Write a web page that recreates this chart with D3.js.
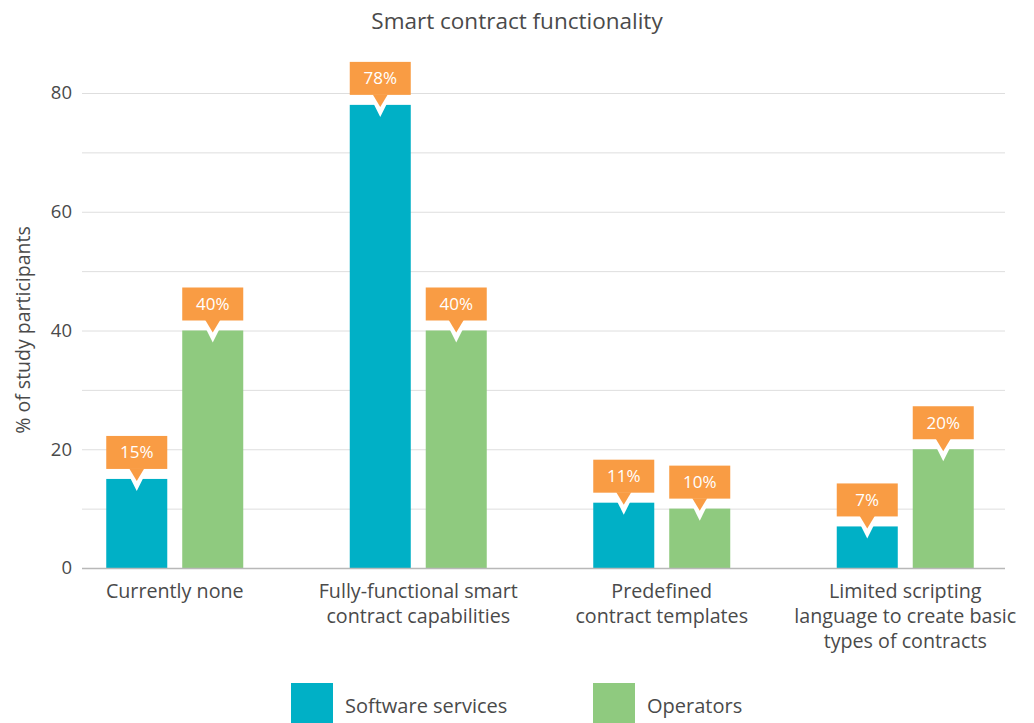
<!DOCTYPE html>
<html>
<head>
<meta charset="utf-8">
<script src="https://cdn.jsdelivr.net/npm/d3@7"></script>
<style>
  body { margin: 0; background: #fff; }
  svg { display: block; font-family: "Open Sans", Lato, sans-serif; }
</style>
</head>
<body>
<svg id="chart" width="1034" height="723"></svg>
<script>
// data
const categories = [
  'Currently none',
  'Fully-functional smart\ncontract capabilities',
  'Predefined\ncontract templates',
  'Limited scripting\nlanguage to create basic\ntypes of contracts'
]
const seriesNames = ['Software services', 'Operators']
const softwareValues = [15, 78, 11, 7]
const operatorValues = [40, 40, 10, 20]
const yTicks = [0, 20, 40, 60, 80]
const gridTicks = [0, 10, 20, 30, 40, 50, 60, 70, 80]
const colors = ['#00b0c6', '#8fca7f']
const calloutColor = '#f99c44'
const textColor = '#4a4a4a'

const svg = d3.select('#chart')

const x0 = d3.scaleBand().domain(categories).range([53, 1027])
const x1 = d3.scaleBand().domain(seriesNames).range([-68.5, 68.5]).paddingInner(0.197)
const y = d3.scaleLinear().domain([0, 80]).range([568, 93])

const gridLeft = 82
const gridRight = 1005

// title
svg.append('text')
  .attr('x', 517).attr('y', 29)
  .attr('text-anchor', 'middle')
  .attr('font-size', 22.5)
  .attr('fill', textColor)
  .text('Smart contract functionality')

// grid
svg.append('g').selectAll('line')
  .data(gridTicks.filter(d => d > 0))
  .enter().append('line')
  .attr('x1', gridLeft).attr('x2', gridRight)
  .attr('y1', d => y(d) + 0.5).attr('y2', d => y(d) + 0.5)
  .attr('stroke', '#dedede').attr('stroke-width', 1)

// y axis labels
const yAxis = svg.append('g')
  .attr('transform', `translate(${gridLeft},0)`)
  .call(d3.axisLeft(y).tickValues(yTicks).tickSize(0).tickPadding(10))
yAxis.select('.domain').remove()
yAxis.selectAll('text')
  .attr('font-family', '"Open Sans", Lato, sans-serif')
  .attr('font-size', 18.5)
  .attr('fill', textColor)

svg.append('text')
  .attr('transform', 'translate(30,330) rotate(-90)')
  .attr('text-anchor', 'middle')
  .attr('font-size', 19.5)
  .attr('fill', textColor)
  .text('% of study participants')

// bars
const rows = categories.map((c, i) => ({
  category: c,
  values: [
    { series: seriesNames[0], value: softwareValues[i], color: colors[0] },
    { series: seriesNames[1], value: operatorValues[i], color: colors[1] }
  ]
}))

const groups = svg.append('g').selectAll('g')
  .data(rows)
  .enter().append('g')
  .attr('transform', d => `translate(${x0(d.category) + x0.bandwidth() / 2},0)`)

groups.selectAll('rect')
  .data(d => d.values)
  .enter().append('rect')
  .attr('x', d => x1(d.series))
  .attr('width', x1.bandwidth())
  .attr('y', d => y(d.value))
  .attr('height', d => y(0) - y(d.value))
  .attr('fill', d => d.color)

// baseline
svg.append('line')
  .attr('x1', gridLeft).attr('x2', gridRight)
  .attr('y1', y(0) + 0.5).attr('y2', y(0) + 0.5)
  .attr('stroke', '#b8b8b8').attr('stroke-width', 1.5)

// callouts
const callouts = groups.selectAll('g.callout')
  .data(d => d.values)
  .enter().append('g')
  .attr('class', 'callout')
  .attr('transform', d => `translate(${x1(d.series) + x1.bandwidth() / 2},${y(d.value) - 10})`)

const bw = x1.bandwidth()
callouts.append('path')
  .attr('d', 'M-11,0 L11,0 L0,22 Z')
  .attr('fill', '#fff')
callouts.append('rect')
  .attr('x', -bw / 2).attr('y', -33)
  .attr('width', bw).attr('height', 33)
  .attr('fill', calloutColor)
callouts.append('path')
  .attr('d', 'M-7.5,-0.5 L7.5,-0.5 L0,12 Z')
  .attr('fill', calloutColor)
callouts.append('text')
  .attr('y', -16.5)
  .attr('dy', '0.35em')
  .attr('text-anchor', 'middle')
  .attr('font-size', 17)
  .attr('fill', '#fff')
  .text(d => d.value + '%')

// category labels
const catLabels = svg.append('g').selectAll('text')
  .data(categories)
  .enter().append('text')
  .attr('x', d => x0(d) + x0.bandwidth() / 2)
  .attr('y', 598)
  .attr('text-anchor', 'middle')
  .attr('font-size', 19.7)
  .attr('fill', textColor)
catLabels.selectAll('tspan')
  .data(d => d.split('\n'))
  .enter().append('tspan')
  .attr('x', function () { return d3.select(this.parentNode).attr('x') })
  .attr('dy', (d, i) => i === 0 ? 0 : 25)
  .text(d => d)

// legend
const legendX = [291, 593]
const legend = svg.append('g').selectAll('g')
  .data(seriesNames)
  .enter().append('g')
  .attr('transform', (d, i) => `translate(${legendX[i]},683)`)
legend.append('rect')
  .attr('width', 42).attr('height', 42)
  .attr('fill', (d, i) => colors[i])
legend.append('text')
  .attr('x', 54).attr('y', 23)
  .attr('dy', '0.35em')
  .attr('font-size', 20)
  .attr('fill', textColor)
  .text(d => d)
</script>
</body>
</html>
